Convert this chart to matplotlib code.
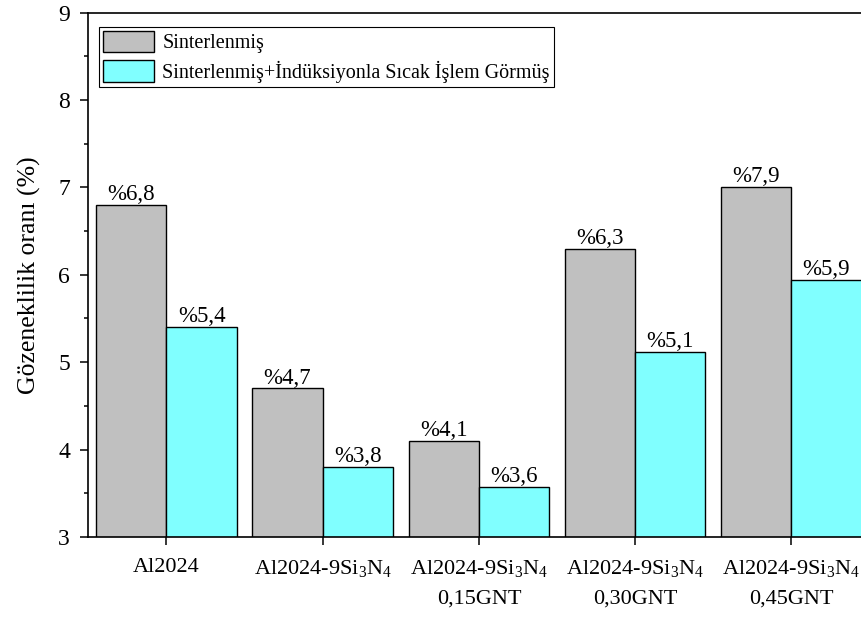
import numpy as np
import matplotlib
matplotlib.use("Agg")
import matplotlib.pyplot as plt

plt.rcParams['font.family'] = ['Liberation Serif', 'DejaVu Serif']
plt.rcParams['mathtext.fontset'] = 'custom'
plt.rcParams['mathtext.rm'] = 'Liberation Serif'
plt.rcParams['mathtext.it'] = 'Liberation Serif:italic'
plt.rcParams['mathtext.bf'] = 'Liberation Serif:bold'

# data
categories = ['Al2024',
              'Al2024-9Si$_3$N$_4$',
              'Al2024-9Si$_3$N$_4$\n0,15GNT',
              'Al2024-9Si$_3$N$_4$\n0,30GNT',
              'Al2024-9Si$_3$N$_4$\n0,45GNT']
sintered = [6.8, 4.7, 4.1, 6.3, 7.0]
induction = [5.4, 3.8, 3.57, 5.12, 5.94]
sintered_labels = ['%6,8', '%4,7', '%4,1', '%6,3', '%7,9']
induction_labels = ['%5,4', '%3,8', '%3,6', '%5,1', '%5,9']

fig = plt.figure(figsize=(8.62, 6.17), dpi=100)
ax = fig.add_axes([88 / 862, 1 - 537 / 617, (862 - 88) / 862, (537 - 12.5) / 617])

x = np.arange(len(categories))
w = 0.45
b1 = ax.bar(x - w / 2, sintered, w, color='#C0C0C0', edgecolor='black', linewidth=1.0,
            label='Sinterlenmiş')
b2 = ax.bar(x + w / 2, induction, w, color='#80FFFF', edgecolor='black', linewidth=1.0,
            label='Sinterlenmiş+İndüksiyonla Sıcak İşlem Görmüş')

for bars, labels in ((b1, sintered_labels), (b2, induction_labels)):
    for rect, lab in zip(bars, labels):
        ax.annotate(lab, (rect.get_x() + rect.get_width() / 2, rect.get_height()),
                    xytext=(0, 3.5), textcoords='offset points',
                    ha='center', va='baseline', fontsize=16.5)

ax.set_ylim(3, 9)
ax.set_xlim(-0.502, 4.452)
ax.set_yticks(np.arange(3, 10, 1))
ax.set_yticks(np.arange(3.5, 9, 1), minor=True)
ax.set_xticks(x)
ax.set_xticklabels(categories, fontsize=16, linespacing=1.8, va='top')
ax.tick_params(axis='y', which='major', direction='out', length=6, width=1.1,
               labelsize=17, pad=7)
ax.tick_params(axis='y', which='minor', direction='out', length=3, width=1.1)
ax.tick_params(axis='x', which='major', direction='out', length=6, width=1.1, pad=9)

for s in ('left', 'bottom', 'top'):
    ax.spines[s].set_linewidth(1.2)
ax.spines['right'].set_visible(False)

ax.set_ylabel('Gözeneklilik oranı (%)', fontsize=18.5, labelpad=12)

leg = ax.legend(loc='upper left', bbox_to_anchor=(11 / 774, 1 - 14.5 / 524.5),
                borderaxespad=0, fontsize=14.5, fancybox=False, framealpha=1,
                edgecolor='black', handlelength=2.55, handleheight=1.25,
                handletextpad=0.4, labelspacing=0.35, borderpad=0.2)
leg.get_frame().set_linewidth(0.8)

plt.savefig('out.png', dpi=100)
